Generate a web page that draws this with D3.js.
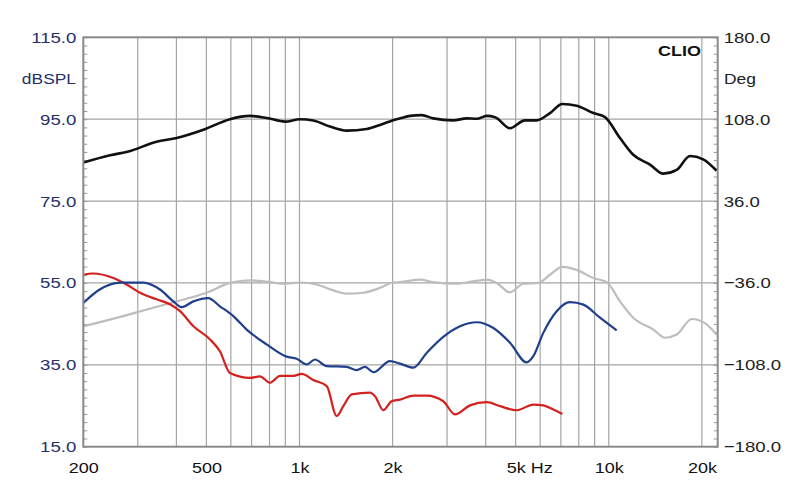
<!DOCTYPE html>
<html><head><meta charset="utf-8">
<script src="https://cdn.jsdelivr.net/npm/d3@7"></script>
<style>
html,body{margin:0;padding:0;background:#fff;}
svg{display:block;font-family:"Liberation Sans",Arial,sans-serif;}
</style></head>
<body>
<svg id="chart" width="800" height="504"></svg>
<script>
// ---- data ----
const splTicks = [15, 35, 55, 75, 95, 115];
const phaseTicks = [-180, -108, -36, 36, 108, 180];
const freqTicks = [200, 500, 1000, 2000, 5000, 10000, 20000];
const freqTickLabels = ["200", "500", "1k", "2k", "5k", "10k", "20k"];
const gridFreqs = [300,400,500,600,700,800,900,1000,2000,3000,4000,5000,6000,7000,8000,9000,10000,20000];

const blackFreq = [200,244,280,345,401,489,596,692,783,898,1004,1108,1255,1421,1650,1821,2062,2114,2276,2484,2708,3142,3472,3742,4031,4288,4794,5358,5848,6457,7076,7874,8912,9722,10870,12000,13594,15008,16580,18300,20200,22320];
const blackSpl  = [84.4,86.2,87.1,89.5,90.4,92.4,95.0,95.8,95.3,94.4,95.0,94.7,93.2,92.2,92.6,93.6,95.0,95.2,95.8,96.0,95.2,94.7,95.2,95.1,95.8,95.5,92.8,94.7,94.7,96.5,98.7,98.3,96.5,95.5,90.4,86.3,83.9,81.7,82.6,86.0,85.2,82.4];

const grayFreq  = [200,269,321,401,501,596,692,783,887,1004,1137,1287,1421,1608,1821,2011,2114,2453,2708,3142,3472,4031,4342,4794,5292,5918,6457,7076,7874,8912,9846,10870,12000,13932,15199,16580,18540,20460,22320];
const grayPhase = [-74.2,-65.2,-59.4,-52.2,-44.6,-36.0,-33.8,-34.9,-36.7,-35.6,-37.4,-42.5,-45.4,-44.6,-40.3,-35.6,-35.3,-33.1,-35.3,-36.7,-35.6,-33.1,-36.0,-44.3,-36.7,-36.0,-28.8,-21.8,-24.5,-31.7,-35.3,-52.2,-66.6,-77.0,-84.2,-81.4,-67.7,-71.3,-81.4];

const blueFreq = [200,226,263,313,354,391,416,454,507,553,611,675,783,909,979,1055,1122,1225,1421,1531,1629,1733,1962,2114,2334,2578,2917,3303,3742,4234,4794,5427,5702,6142,6786,7492,8274,9368,10606];
const blueSpl  = [50.1,53.4,55.1,55.1,53.4,50.5,49.1,50.5,51.3,49.3,46.9,43.6,40.0,37.0,36.5,35.1,36.3,34.7,34.5,33.7,34.5,33.2,35.9,35.3,34.3,37.9,41.8,44.4,45.4,44.0,40.4,35.6,37.1,42.8,48.1,50.3,49.7,46.5,43.4];

const redFreq = [200,215,250,276,305,345,381,411,454,514,553,596,692,745,803,865,955,1016,1108,1225,1319,1386,1475,1691,1755,1867,1986,2114,2334,2578,2917,3182,3558,4031,4450,5038,5702,6142,6617,7076];
const redSpl  = [57.0,57.3,56.2,54.6,52.6,51.0,49.8,48.1,44.4,41.2,38.3,33.0,31.8,32.2,30.6,32.3,32.3,32.8,31.3,29.8,22.5,24.9,27.8,28.2,27.3,23.9,26.1,26.5,27.5,27.5,26.1,22.9,25.1,25.9,24.9,23.9,25.3,25.1,24.1,23.0];

// ---- layout ----
const svg = d3.select("#chart");
const L = 83.3, R = 717.7, T = 37.3, B = 446.7;
const SX = 1.2; // horizontal stretch of the reference's text
const x = d3.scaleLog().domain([200, 22500]).range([L, R]);
const y = d3.scaleLinear().domain([15, 115]).range([B, T]);
const yp = d3.scaleLinear().domain([-180, 180]).range([B, T]);

function stretch(sel) {
  sel.each(function() {
    const t = d3.select(this);
    const x0 = +(t.attr("x") || 0);
    const y0 = +(t.attr("y") || 0);
    t.attr("transform", `translate(${x0},${y0}) scale(${SX},1) translate(${-x0},${-y0})`);
  });
}

// gridlines
const g = svg.append("g");
g.selectAll(".vg").data(gridFreqs).join("line")
  .attr("x1", d => x(d)).attr("x2", d => x(d)).attr("y1", T).attr("y2", B)
  .attr("stroke", "#a5a5a5").attr("stroke-width", 1.2);
g.selectAll(".hg").data(splTicks.slice(1, -1)).join("line")
  .attr("x1", L).attr("x2", R).attr("y1", d => y(d)).attr("y2", d => y(d))
  .attr("stroke", "#a5a5a5").attr("stroke-width", 1.2);

// minor ticks
svg.append("g").attr("transform", `translate(${L},0)`)
  .call(d3.axisRight(y).tickValues(d3.range(15, 116, 2)).tickSize(4).tickFormat(""))
  .call(s => s.select(".domain").remove())
  .call(s => s.selectAll("line").attr("stroke", "#999"));
svg.append("g").attr("transform", `translate(${R},0)`)
  .call(d3.axisLeft(yp).tickValues(d3.range(-180, 181, 7.2)).tickSize(4).tickFormat(""))
  .call(s => s.select(".domain").remove())
  .call(s => s.selectAll("line").attr("stroke", "#999"));

// curves
const lineSpl = (fs, vs) => d3.line().curve(d3.curveMonotoneX)
  .x((d, i) => x(fs[i])).y((d, i) => y(vs[i]))(vs);
const linePh = (fs, vs) => d3.line().curve(d3.curveMonotoneX)
  .x((d, i) => x(fs[i])).y((d, i) => yp(vs[i]))(vs);

svg.append("path").attr("d", linePh(grayFreq, grayPhase))
  .attr("fill", "none").attr("stroke", "#bdbdbd").attr("stroke-width", 2.2);
svg.append("path").attr("d", lineSpl(redFreq, redSpl))
  .attr("fill", "none").attr("stroke", "#d3211f").attr("stroke-width", 2.2);
svg.append("path").attr("d", lineSpl(blueFreq, blueSpl))
  .attr("fill", "none").attr("stroke", "#203f8c").attr("stroke-width", 2.2);
svg.append("path").attr("d", lineSpl(blackFreq, blackSpl))
  .attr("fill", "none").attr("stroke", "#111").attr("stroke-width", 2.6);

// frame
svg.append("rect").attr("x", L).attr("y", T).attr("width", R - L).attr("height", B - T)
  .attr("fill", "none").attr("stroke", "#8a8a8a").attr("stroke-width", 2);

// left axis labels
svg.append("g").attr("transform", `translate(${L},0)`)
  .call(d3.axisLeft(y).tickValues(splTicks).tickSize(0).tickPadding(7).tickFormat(d3.format(".1f")))
  .call(s => s.select(".domain").remove())
  .call(s => s.selectAll("text").attr("fill", "#25306a").attr("font-size", 15.5)
    .attr("font-family", '"Liberation Sans",Arial,sans-serif').call(stretch));
// right axis labels
svg.append("g").attr("transform", `translate(${R},0)`)
  .call(d3.axisRight(yp).tickValues(phaseTicks).tickSize(0).tickPadding(6).tickFormat(d3.format(".1f")))
  .call(s => s.select(".domain").remove())
  .call(s => s.selectAll("text").attr("fill", "#222").attr("font-size", 15.5)
    .attr("font-family", '"Liberation Sans",Arial,sans-serif').call(stretch));
// bottom axis labels
const bx = svg.append("g").attr("transform", `translate(0,${B})`)
  .call(d3.axisBottom(x).tickValues(freqTicks).tickSize(0).tickPadding(16)
    .tickFormat((d, i) => freqTickLabels[i]))
  .call(s => s.select(".domain").remove())
  .call(s => s.selectAll("text").attr("fill", "#111").attr("font-size", 15)
    .attr("font-family", '"Liberation Sans",Arial,sans-serif'));
bx.selectAll(".tick").filter(d => d === 5000).select("text").each(function() {
  const t = d3.select(this);
  const w = this.getComputedTextLength();
  t.attr("text-anchor", "start").attr("x", -w / 2 * SX).text(freqTickLabels[4] + " Hz");
});
bx.selectAll("text").call(stretch);

// unit labels
svg.append("text").attr("x", 76).attr("y", 84).attr("text-anchor", "end")
  .attr("font-size", 14.5).attr("fill", "#25306a").text("dBSPL").call(stretch);
svg.append("text").attr("x", 724).attr("y", 84).attr("text-anchor", "start")
  .attr("font-size", 14.5).attr("fill", "#222").text("Deg").call(stretch);
svg.append("text").attr("x", 701).attr("y", 56).attr("text-anchor", "end")
  .attr("font-size", 15).attr("font-weight", "bold").attr("fill", "#111").text("CLIO").call(stretch);
</script>
</body></html>
